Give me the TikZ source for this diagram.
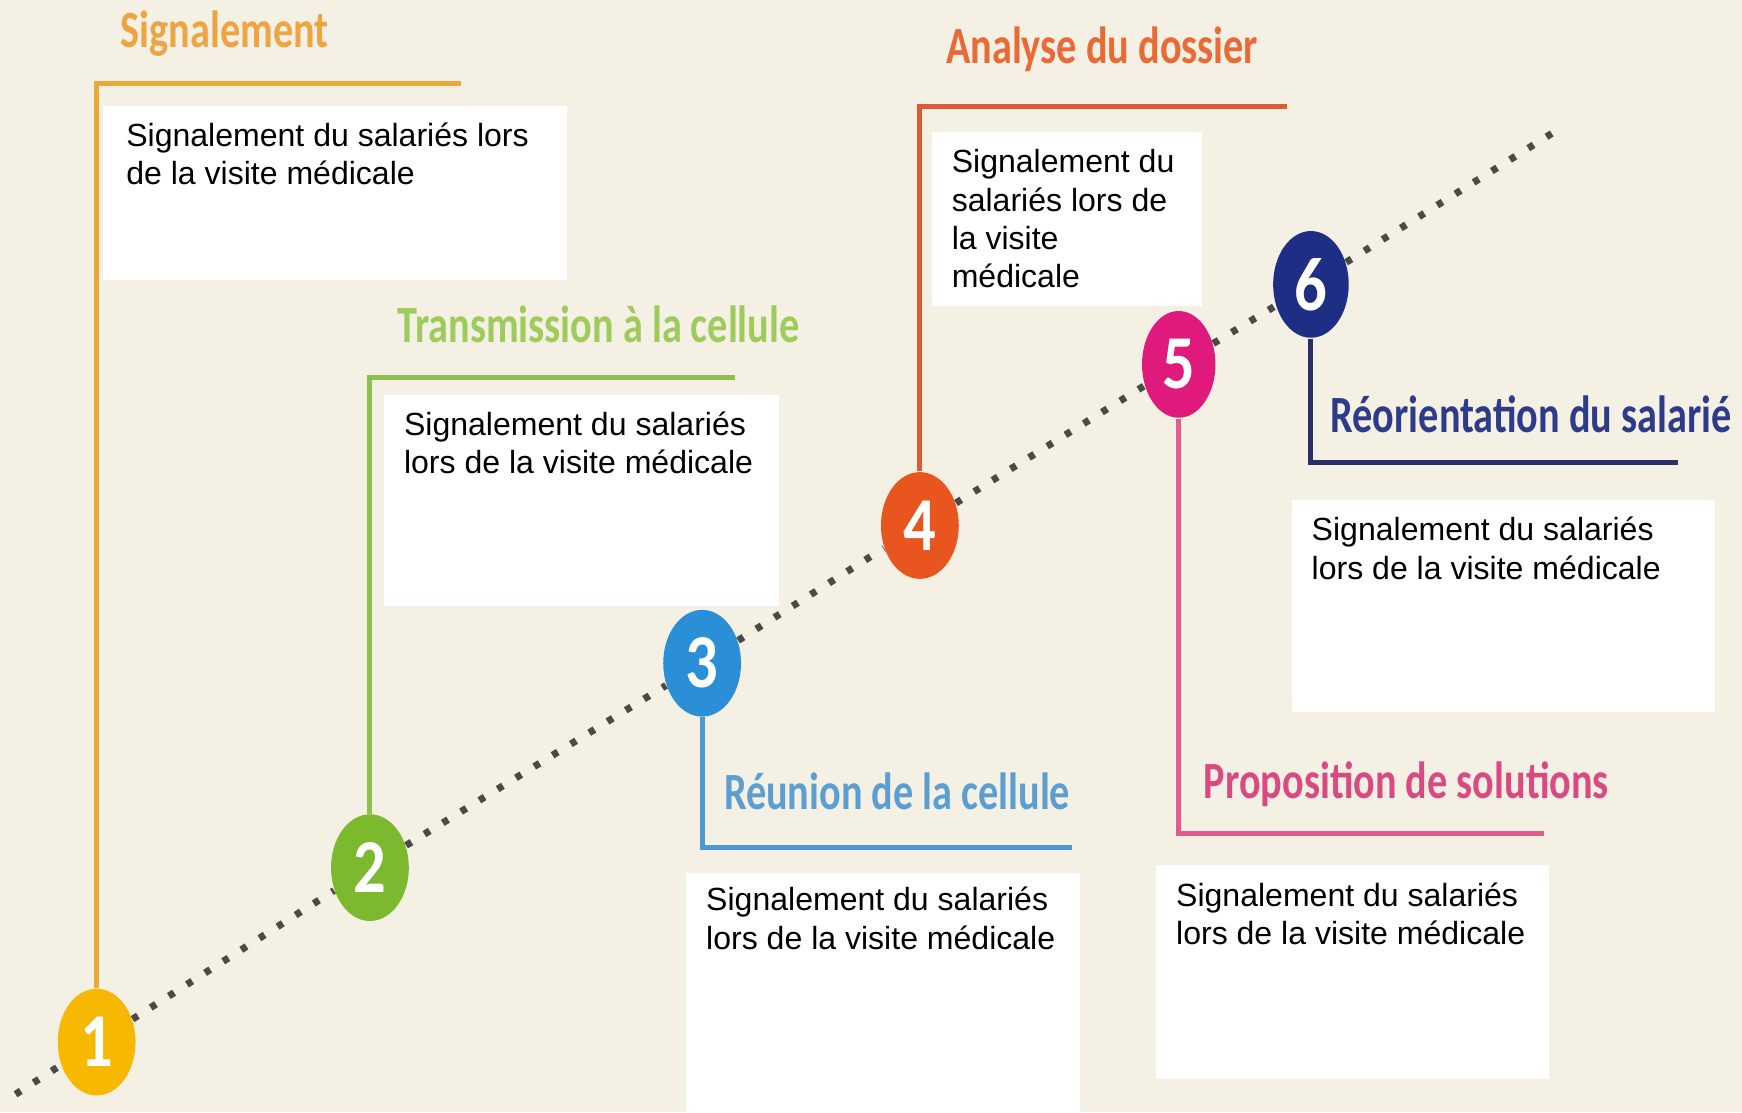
\documentclass[tikz,border=0pt]{standalone}
\usepackage{fontspec}
\usepackage{graphicx}
\setmainfont{Liberation Sans}
\newfontfamily\titlefont{Carlito}
\usetikzlibrary{shapes.geometric}

\definecolor{bgcream}{HTML}{F4F1E4}
\definecolor{trackgrey}{HTML}{4A4A4A}
\definecolor{yelfill}{HTML}{F6B800}
\definecolor{yelline}{HTML}{E8A93C}
\definecolor{yeltext}{HTML}{EDA441}
\definecolor{grnfill}{HTML}{7DB92E}
\definecolor{grnline}{HTML}{8DBF4E}
\definecolor{grntext}{HTML}{9ECB5C}
\definecolor{blufill}{HTML}{2A8FD6}
\definecolor{bluline}{HTML}{4C9AD4}
\definecolor{blutext}{HTML}{5B9ED2}
\definecolor{orafill}{HTML}{E9551F}
\definecolor{oraline}{HTML}{DD5C36}
\definecolor{oratext}{HTML}{E96A36}
\definecolor{magfill}{HTML}{E0197D}
\definecolor{magline}{HTML}{E45C8E}
\definecolor{magtext}{HTML}{D94A82}
\definecolor{navfill}{HTML}{1F2E85}
\definecolor{navline}{HTML}{2A2F6B}
\definecolor{navtext}{HTML}{2E3A8A}

\newcommand{\tall}[1]{\scalebox{1}[1.3]{#1}}
\newcommand{\numtall}[1]{\scalebox{1.1}[1.3]{#1}}

\tikzset{
    stepdot/.style={ellipse, minimum width=0.7cm, minimum height=0.96cm, inner sep=0pt,
        text=white, font=\titlefont\bfseries\fontsize{15}{15}\selectfont},
    track/.style={trackgrey, line width=1.8pt, dash pattern=on 1.6pt off 3.9pt},
    link/.style={line width=1.3pt},
    steptitle/.style={anchor=base west, inner sep=0pt, font=\titlefont\bfseries\fontsize{10.3}{12}\selectfont},
    notebox/.style={fill=white, draw=none, inner sep=0pt, anchor=north west},
    notetext/.style={anchor=north west, inner sep=0pt, align=left, font=\fontsize{8.2}{9.8}\selectfont}
}

\begin{document}
\begin{tikzpicture}[x=0.01cm, y=-0.01cm]
    \useasboundingbox (0,0) rectangle (1568,1001);
    \fill[bgcream] (0,0) rectangle (1568,1001);

    \node[stepdot, fill=yelfill] (n1) at (87,938) {\numtall{1}};
    \node[stepdot, fill=grnfill] (n2) at (333,781) {\numtall{2}};
    \node[stepdot, fill=blufill] (n3) at (632,597) {\numtall{3}};
    \node[stepdot, fill=orafill] (n4) at (828,473) {\numtall{4}};
    \node[stepdot, fill=magfill, minimum width=0.66cm] (n5) at (1061,328) {\numtall{5}};
    \node[stepdot, fill=navfill, minimum width=0.68cm] (n6) at (1180,256) {\numtall{6}};

    \coordinate (tstart) at (14,985);
    \coordinate (tend) at (1405,115);
    \draw[track] (tstart) -- (n1) -- (n2) -- (n3) -- (n4) -- (n5) -- (n6) -- (tend);

    \coordinate (h1) at (415,75);
    \coordinate (h2) at (662,340);
    \coordinate (h3) at (965,763);
    \coordinate (h4) at (1158,96);
    \coordinate (h5) at (1390,750);
    \coordinate (h6) at (1510,416);
    \draw[link, yelline] (n1) |- (h1);
    \draw[link, grnline] (n2) |- (h2);
    \draw[link, bluline] (n3) |- (h3);
    \draw[link, oraline] (n4) |- (h4);
    \draw[link, magline] (n5) |- (h5);
    \draw[link, navline] (n6) |- (h6);

    \node[steptitle, text=yeltext] (l1) at (108,43) {\tall{Signalement}};
    \node[steptitle, text=grntext] (l2) at (357,308) {\tall{Transmission à la cellule}};
    \node[steptitle, text=blutext] (l3) at (651,729) {\tall{Réunion de la cellule}};
    \node[steptitle, text=oratext] (l4) at (851,57) {\tall{Analyse du dossier}};
    \node[steptitle, text=magtext] (l5) at (1083,719) {\tall{Proposition de solutions}};
    \node[steptitle, text=navtext] (l6) at (1197,389) {\tall{Réorientation du salarié}};

    \node[notebox, minimum width=4.17cm, minimum height=1.56cm] (b1) at (92,95) {};
    \node[notebox, minimum width=3.55cm, minimum height=1.90cm] (b2) at (345,355) {};
    \node[notebox, minimum width=3.54cm, minimum height=2.16cm] (b3) at (617,785) {};
    \node[notebox, minimum width=2.43cm, minimum height=1.57cm] (b4) at (838,118) {};
    \node[notebox, minimum width=3.53cm, minimum height=1.92cm] (b5) at (1040,778) {};
    \node[notebox, minimum width=3.81cm, minimum height=1.91cm] (b6) at (1162,449) {};

    \node[notetext] (t1) at ([shift={(21,15)}]b1.north west) {Signalement du salariés lors\\de la visite médicale};
    \node[notetext] (t2) at ([shift={(18,15)}]b2.north west) {Signalement du salariés\\lors de la visite médicale};
    \node[notetext] (t3) at ([shift={(18,13)}]b3.north west) {Signalement du salariés\\lors de la visite médicale};
    \node[notetext] (t4) at ([shift={(18,16)}]b4.north west) {Signalement du\\salariés lors de\\la visite\\médicale};
    \node[notetext] (t5) at ([shift={(18,16)}]b5.north west) {Signalement du salariés\\lors de la visite médicale};
    \node[notetext] (t6) at ([shift={(18,16)}]b6.north west) {Signalement du salariés\\lors de la visite médicale};
\end{tikzpicture}
\end{document}
